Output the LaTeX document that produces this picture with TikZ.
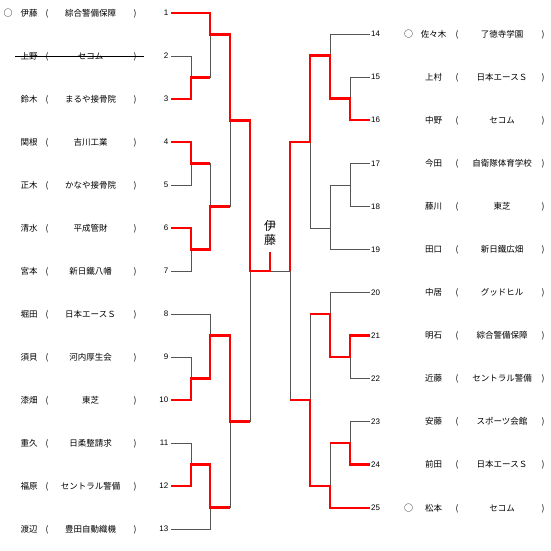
\documentclass[tikz,border=0pt]{standalone}
\usepackage{fontspec}
\newfontfamily\jp{Noto Sans CJK JP}
\newfontfamily\numf{Liberation Sans}
\definecolor{brgray}{RGB}{85,85,85}
\definecolor{brred}{RGB}{255,0,0}
\begin{document}
\begin{tikzpicture}[x=1pt,y=-1pt,
  grayline/.style={draw=brgray,line width=0.9pt},
  redline/.style={draw=brred,line width=2.4pt,line join=miter},
  jptext/.style={font=\jp\fontsize{8.5}{9}\selectfont,inner sep=0,anchor=base,yshift=-3.1pt},
  circtext/.style={font=\jp\fontsize{9}{9}\selectfont,inner sep=0,anchor=base,yshift=-3.2pt},
  numL/.style={font=\numf\fontsize{8}{9}\selectfont,inner sep=0,anchor=base east,yshift=-2.9pt},
  numR/.style={font=\numf\fontsize{8}{9}\selectfont,inner sep=0,anchor=base west,yshift=-2.9pt},
  champ/.style={font=\jp\fontsize{12}{13.5}\selectfont,inner sep=0,align=center}]
\fill[white] (0,0) rectangle (550,551);
\useasboundingbox (0,0) rectangle (550,551);
% column reference coordinates
\coordinate (cOL) at (8,0);
\coordinate (cNL) at (29,0);
\coordinate (cPL1) at (47,0);
\coordinate (cGL) at (90.5,0);
\coordinate (cPL2) at (135,0);
\coordinate (cNumL) at (168.5,0);
\coordinate (cNumR) at (371,0);
\coordinate (cOR) at (408.5,0);
\coordinate (cNR) at (433.5,0);
\coordinate (cPR1) at (457,0);
\coordinate (cGR) at (502,0);
\coordinate (cPR2) at (543,0);
% leaves
\foreach \i/\yy in {1/13,2/56,3/99,4/142,5/185,6/228,7/271,8/314,9/357,10/400,11/443,12/486,13/529}
  \coordinate (L\i) at (171,\yy);
\foreach \i/\yy in {14/34,15/77,16/120,17/163.5,18/206.5,19/249.5,20/292.5,21/335.5,22/378.5,23/421.5,24/464.5,25/508}
  \coordinate (R\i) at (370,\yy);
% left matches
\coordinate (m23) at (191,77.5);
\coordinate (mA) at (210,34.5);
\coordinate (m45) at (191,163.5);
\coordinate (m67) at (191,249.5);
\coordinate (mB) at (210,206.5);
\coordinate (mTL) at (230,120.5);
\coordinate (m910) at (191,378.5);
\coordinate (mC) at (210,335.5);
\coordinate (m1112) at (191,464.5);
\coordinate (mD) at (210,507.5);
\coordinate (mBL) at (230,421.5);
\coordinate (sL) at (250,271);
\coordinate (sR) at (290,271);
\coordinate (fin) at (270,271);
\coordinate (finT) at (270,252);
% right matches
\coordinate (r1516) at (350,98.5);
\coordinate (rA) at (330,55.5);
\coordinate (r1718) at (350,185);
\coordinate (rB) at (330,228);
\coordinate (rTR) at (310,141.75);
\coordinate (r2122) at (350,357);
\coordinate (rC) at (330,314);
\coordinate (r2324) at (350,443);
\coordinate (rD) at (330,486.25);
\coordinate (rBR) at (310,400);
% gray bracket
\draw[grayline] (L2) -| (m23) (L3) -| (m23) (L1) -| (mA) (m23) -| (mA)
  (L4) -| (m45) (L5) -| (m45) (L6) -| (m67) (L7) -| (m67)
  (m45) -| (mB) (m67) -| (mB) (mA) -| (mTL) (mB) -| (mTL)
  (L9) -| (m910) (L10) -| (m910) (L8) -| (mC) (m910) -| (mC)
  (L11) -| (m1112) (L12) -| (m1112) (m1112) -| (mD) (L13) -| (mD)
  (mC) -| (mBL) (mD) -| (mBL) (mTL) -| (sL) (mBL) -| (sL) (sL) -- (sR);
\draw[grayline] (R15) -| (r1516) (R16) -| (r1516) (R14) -| (rA) (r1516) -| (rA)
  (R17) -| (r1718) (R18) -| (r1718) (r1718) -| (rB) (R19) -| (rB)
  (rA) -| (rTR) (rB) -| (rTR)
  (R21) -| (r2122) (R22) -| (r2122) (R20) -| (rC) (r2122) -| (rC)
  (R23) -| (r2324) (R24) -| (r2324) (r2324) -| (rD) (R25) -| (rD)
  (rC) -| (rBR) (rD) -| (rBR) (rTR) -| (sR) (rBR) -| (sR);
% red winner paths
\draw[redline] (L1) -| (mA) -| (mTL) -| (sL) -- (fin) -- (finT);
\draw[redline] (L3) -| (m23) -- (m23 -| mA);
\draw[redline] (L4) -| (m45) -- (m45 -| mB);
\draw[redline] (L6) -| (m67) -| (mB) -- (mB -| mTL);
\draw[redline] (L10) -| (m910) -| (mC) -| (mBL) -- (mBL -| sL);
\draw[redline] (L12) -| (m1112) -| (mD) -- (mD -| mBL);
\draw[redline] (R16) -| (r1516) -| (rA) -| (rTR) -| (sR);
\draw[redline] (R21) -| (r2122) -| (rC) -- (rC -| rBR);
\draw[redline] (R24) -| (r2324) -- (r2324 -| rD);
\draw[redline] (R25) -| (rD) -| (rBR) -- (rBR -| sR);
% champion label
\node[champ] (champion) at (270,233) {伊\\藤};
% left entries
\foreach \i/\nm/\org in {1/伊藤/綜合警備保障,2/上野/セコム,3/鈴木/まるや接骨院,4/関根/吉川工業,5/正木/かなや接骨院,6/清水/平成管財,7/宮本/新日鐵八幡,8/堀田/日本エースＳ,9/須貝/河内厚生会,10/漆畑/東芝,11/重久/日柔整請求,12/福原/セントラル警備,13/渡辺/豊田自動織機}{
  \node[jptext] (nameL\i) at (L\i -| cNL) {\nm};
  \node[jptext] (popL\i) at (L\i -| cPL1) {(};
  \node[jptext] (orgL\i) at (L\i -| cGL) {\org};
  \node[jptext] (pclL\i) at (L\i -| cPL2) {)};
  \node[numL] (numL\i) at (L\i -| cNumL) {\i};
}
% right entries
\foreach \i/\nm/\org in {14/佐々木/了徳寺学園,15/上村/日本エースＳ,16/中野/セコム,17/今田/自衛隊体育学校,18/藤川/東芝,19/田口/新日鐵広畑,20/中居/グッドヒル,21/明石/綜合警備保障,22/近藤/セントラル警備,23/安藤/スポーツ会館,24/前田/日本エースＳ,25/松本/セコム}{
  \node[jptext] (nameR\i) at (R\i -| cNR) {\nm};
  \node[jptext] (popR\i) at (R\i -| cPR1) {(};
  \node[jptext] (orgR\i) at (R\i -| cGR) {\org};
  \node[jptext] (pclR\i) at (R\i -| cPR2) {)};
  \node[numR] (numR\i) at (R\i -| cNumR) {\i};
}
% seed marks
\node[circtext] (seedL1) at (L1 -| cOL) {○};
\node[circtext] (seedR14) at (R14 -| cOR) {○};
\node[circtext] (seedR25) at (R25 -| cOR) {○};
% strike-through of withdrawn entry 2
\coordinate (strikeA) at (15,56);
\coordinate (strikeB) at (144,56);
\draw[black,line width=0.8pt] (strikeA) -- (strikeB);
\end{tikzpicture}
\end{document}
